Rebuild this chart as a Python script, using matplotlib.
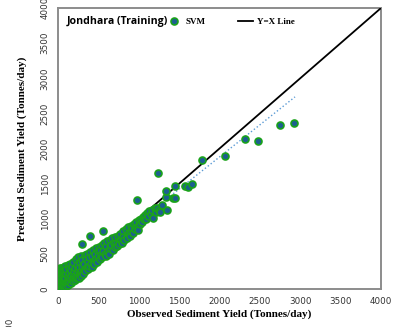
import matplotlib
matplotlib.use("Agg")
import matplotlib.pyplot as plt
from matplotlib.lines import Line2D

# observed vs predicted sediment yield, SVM training set (Tonnes/day)
observed = [
    5, 10, 12, 15, 18, 20, 22, 25, 28, 30, 32, 35, 38, 40, 42, 45, 48, 50, 52, 55,
    58, 60, 62, 65, 68, 70, 72, 75, 78, 80, 85, 88, 90, 92, 95, 98, 100,
    105, 110, 115, 118, 120, 125, 130, 135, 140, 145, 150, 155, 160, 165, 170, 175,
    180, 185, 190, 195, 200, 205, 210, 215, 220, 225, 230, 235, 240, 245, 250, 255,
    260, 265, 270, 275, 280, 285, 290, 295,
    300, 305, 310, 320, 330, 335, 340, 350, 355, 360, 370, 375, 380, 390, 400, 410,
    415, 420, 430, 440, 450, 455, 465, 470, 480, 490, 500, 505, 515, 520, 530, 540,
    550, 560, 570, 580, 590, 600,
    610, 620, 630, 640, 650, 660, 670, 680, 690, 700, 710, 720, 730, 740, 750, 760,
    770, 780, 790, 800, 810, 820, 840, 850, 860, 870, 880, 890, 900, 910, 920, 930,
    945, 955, 960, 970, 985, 990, 1000,
    1010, 1025, 1040, 1055, 1060, 1075, 1090, 1100, 1110, 1130, 1150, 1170, 1180,
    1195, 1210, 1230, 1250, 1263,
    974, 561, 396, 293, 1242, 1291, 1346, 1333, 1333, 1427, 1448, 1445, 1572, 1613,
    1655, 1787, 2072, 2319, 2477, 2749, 2926,
]
predicted = [
    20, 60, 120, 180, 30, 250, 90, 294, 150, 40, 210, 10, 110, 280, 60, 170, 20, 230, 100, 300,
    45, 140, 260, 75, 200, 30, 320, 120, 180, 60, 250, 95, 330, 150, 70, 210, 40,
    280, 120, 90, 340, 180, 60, 230, 300, 100, 150, 360, 200, 80, 270, 130, 330,
    110, 220, 390, 160, 260, 130, 300, 180, 420, 150, 240, 340, 170, 280, 450, 200,
    310, 160, 380, 230, 470, 260, 190, 330,
    410, 240, 220, 360, 480, 280, 250, 420, 310, 500, 290, 380, 450, 330, 520, 360,
    310, 470, 560, 400, 350, 500, 580, 420, 380, 540, 470, 600, 420, 560, 480, 620,
    450, 540, 650, 500, 470, 610,
    680, 540, 500, 700, 580, 620, 720, 560, 650, 600, 740, 660, 610, 760, 690, 640,
    790, 700, 660, 820, 740, 700, 850, 760, 720, 880, 800, 760, 900, 830, 870, 800,
    930, 860, 890, 950, 900, 840, 980,
    920, 1000, 950, 1030, 990, 1060, 1000, 1080, 1040, 1110, 1070, 1120, 1010,
    1150, 1100, 1160, 1120, 1100,
    1270, 820, 754, 640, 1655, 1195, 1124, 1305, 1399, 1299, 1291, 1466, 1466, 1447,
    1498, 1836, 1889, 2135, 2102, 2334, 2358,
]

# fitted trend and 1:1 reference
trend_x = [0, 2935]
trend_y = [50, 2735]
ref_line = [0, 4000]
ticks = [0, 500, 1000, 1500, 2000, 2500, 3000, 3500, 4000]

face = "#1d5f8f"
edge = "#1aa21a"

fig = plt.figure(figsize=(3.93, 3.27), dpi=100)
ax = fig.add_axes([0.1476, 0.1162, 0.8219, 0.8593])

ax.plot(trend_x, trend_y, linestyle=":", color="#5b9bd5", linewidth=1.0, zorder=2)
ax.plot(ref_line, ref_line, color="black", linewidth=1.3, zorder=3)
ax.scatter(observed, predicted, s=25, facecolor=face, edgecolor=edge,
           linewidth=1.2, zorder=4)

ax.set_xlim(0, 4000)
ax.set_ylim(0, 4000)
ax.set_xticks(ticks)
ax.set_yticks(ticks)
ax.tick_params(length=0, labelsize=6.3, labelcolor="#333333", pad=6)
for lab in ax.get_yticklabels():
    lab.set_rotation(90)
    lab.set_va("center")
for sp in ax.spines.values():
    sp.set_color("#8c8c8c")
    sp.set_linewidth(1.4)

serif = ["Liberation Serif", "DejaVu Serif"]
ax.set_xlabel("Observed Sediment Yield (Tonnes/day)", family=serif,
              fontweight="bold", fontsize=8, labelpad=2)
ax.set_ylabel("Predicted Sediment Yield (Tonnes/day)", family=serif,
              fontweight="bold", fontsize=8, labelpad=10)

ax.text(0.026, 0.953, "Jondhara (Training)", transform=ax.transAxes,
        family=["Open Sans", "DejaVu Sans"], fontweight="bold", fontsize=7.6,
        va="center", ha="left")

handles = [
    Line2D([], [], linestyle="none", marker="o", markersize=5,
           markerfacecolor=face, markeredgecolor=edge, markeredgewidth=1.2),
    Line2D([], [], color="black", linewidth=1.3),
]
ax.legend(handles, ["SVM", "Y=X Line"], ncol=2, frameon=False,
          loc="center left", bbox_to_anchor=(0.31, 0.95),
          prop={"family": serif, "weight": "bold", "size": 6.5},
          handlelength=1.7, handletextpad=0.4, columnspacing=3.6)

# bit of the next panel's axis peeking in at the bottom
fig.text(0.027, 0.03, "4000", rotation=90, ha="center", va="top",
         fontsize=6.3, color="#333333")

fig.savefig("out.png", dpi=100)
